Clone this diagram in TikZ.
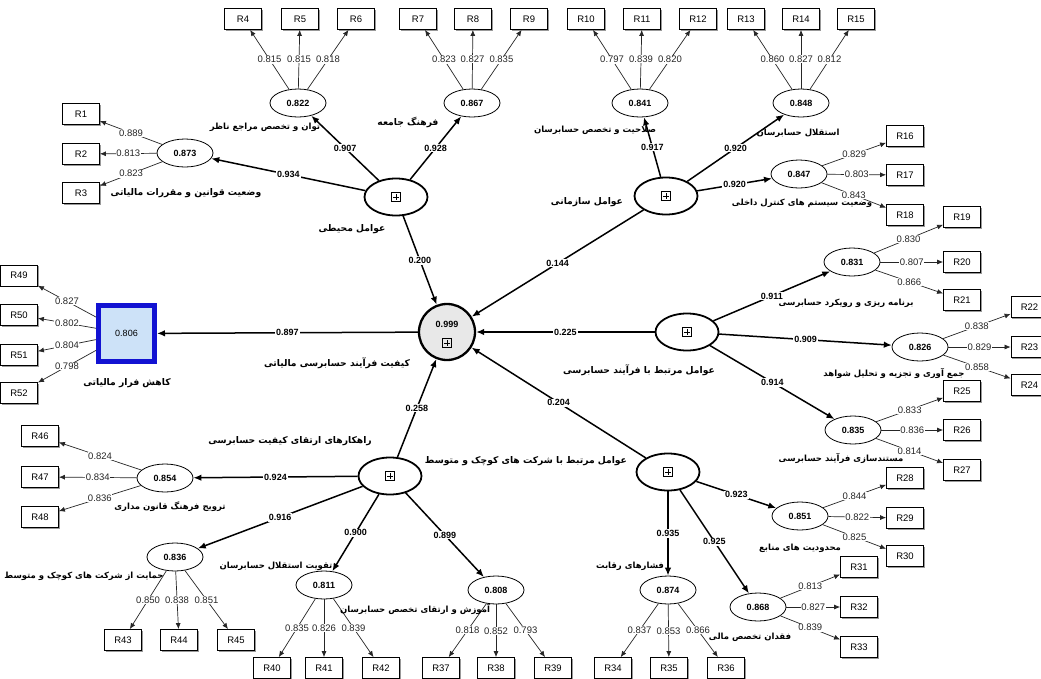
\documentclass[tikz,border=0pt]{standalone}
\usepackage{fontspec}
\setmainfont{Liberation Sans}
\newfontfamily\fa[Script=Arabic]{DejaVu Sans}
\TeXXeTstate=1
\usetikzlibrary{shapes.geometric,arrows.meta,shadows}
\definecolor{sqblue}{RGB}{18,18,210}
\definecolor{sqfill}{RGB}{205,226,248}
\definecolor{cgray}{RGB}{232,232,232}
\begin{document}
\begin{tikzpicture}[x=1pt,y=-1pt,
  ind/.style={draw, line width=0.8pt, minimum width=37pt, minimum height=21pt, inner sep=0pt, fill=white,
    font=\fontsize{9.5}{11}\selectfont,
    drop shadow={shadow xshift=1.2pt, shadow yshift=-1.2pt, fill=black!40, opacity=1}},
  fo/.style={draw, ellipse, line width=0.8pt, minimum width=56pt, minimum height=28pt, inner sep=0pt, fill=white,
    font=\bfseries\fontsize{9}{11}\selectfont},
  so/.style={draw, ellipse, line width=1.8pt, minimum width=63pt, minimum height=37pt, inner sep=0pt, fill=white},
  pbox/.style={draw, line width=0.6pt, minimum size=9pt, inner sep=0pt,
    path picture={\draw[line width=0.6pt] ([yshift=-1.8pt]path picture bounding box.north) -- ([yshift=1.8pt]path picture bounding box.south)
      ([xshift=1.8pt]path picture bounding box.west) -- ([xshift=-1.8pt]path picture bounding box.east);}},
  ld/.style={draw=black!85, line width=0.7pt, -{Latex[length=6pt,width=5pt]}},
  pth/.style={draw, line width=1.5pt, -{Latex[length=8pt,width=6.5pt]}},
  lnum/.style={fill=white, inner sep=0.6pt, font=\fontsize{9.5}{11}\selectfont, text=black!85},
  pnum/.style={fill=white, inner sep=1pt, font=\bfseries\fontsize{9}{11}\selectfont},
  falbl/.style={inner sep=0pt, font=\fa\bfseries\fontsize{9.2}{10}\selectfont},
  falbls/.style={inner sep=0pt, font=\fa\bfseries\fontsize{8.5}{10}\selectfont},
]
\useasboundingbox (0,0) rectangle (1041,678);
\fill[white] (0,0) rectangle (1041,678);

% ---------- central construct and outcome ----------
\node[circle, draw, line width=2.3pt, fill=cgray, minimum size=56pt, inner sep=0pt] (C) at (447,332) {};
\node[font=\bfseries\fontsize{9}{11}\selectfont, inner sep=0pt] (Cv) at (447,324) {0.999};
\node[pbox] (Cp) at (447,343) {};
\node[draw=sqblue, fill=sqfill, line width=5pt, minimum size=56pt, inner sep=0pt, font=\fontsize{9}{11}\selectfont] (S) at (126.5,333.5) {0.806};

% ---------- second-order constructs ----------
\node[so] (E) at (396,197) {};  \node[pbox] (Ep) at (396,197) {};
\node[so] (O) at (666,196) {};  \node[pbox] (Op) at (666,196) {};
\node[so] (P) at (687,332) {};  \node[pbox] (Pp) at (687,332) {};
\node[so] (M) at (668,472) {};  \node[pbox] (Mp) at (668,472) {};
\node[so] (K) at (390,476) {};  \node[pbox] (Kp) at (390,476) {};

% ---------- first-order constructs ----------
\node[fo] (F1) at (185,153) {0.873};
\node[fo] (F2) at (298,103) {0.822};
\node[fo] (F3) at (472,103) {0.867};
\node[fo] (F4) at (640,103) {0.841};
\node[fo] (F5) at (801,103) {0.848};
\node[fo] (F6) at (799,174) {0.847};
\node[fo] (F7) at (852,262) {0.831};
\node[fo] (F8) at (920,347) {0.826};
\node[fo] (F9) at (853,430) {0.835};
\node[fo] (F10) at (800,516) {0.851};
\node[fo] (F11) at (758,607) {0.868};
\node[fo] (F12) at (668,590) {0.874};
\node[fo] (F13) at (496,590) {0.808};
\node[fo] (F14) at (324,585) {0.811};
\node[fo] (F15) at (175,557) {0.836};
\node[fo] (F16) at (165,478) {0.854};

% ---------- indicators ----------
\node[ind] (R1) at (81,114) {R1};
\node[ind] (R2) at (81,154) {R2};
\node[ind] (R3) at (81,193) {R3};
\node[ind] (R4) at (243,19) {R4};
\node[ind] (R5) at (300,19) {R5};
\node[ind] (R6) at (356,19) {R6};
\node[ind] (R7) at (418,19) {R7};
\node[ind] (R8) at (473,19) {R8};
\node[ind] (R9) at (529,19) {R9};
\node[ind] (R10) at (586,19) {R10};
\node[ind] (R11) at (642,19) {R11};
\node[ind] (R12) at (698,19) {R12};
\node[ind] (R13) at (746,19) {R13};
\node[ind] (R14) at (801,19) {R14};
\node[ind] (R15) at (856,19) {R15};
\node[ind] (R16) at (905,136) {R16};
\node[ind] (R17) at (905,175) {R17};
\node[ind] (R18) at (905,215) {R18};
\node[ind] (R19) at (962,217) {R19};
\node[ind] (R20) at (962,262) {R20};
\node[ind] (R21) at (962,300) {R21};
\node[ind] (R22) at (1029.5,307) {R22};
\node[ind] (R23) at (1029.5,347) {R23};
\node[ind] (R24) at (1029.5,385) {R24};
\node[ind] (R25) at (962,391) {R25};
\node[ind] (R26) at (962,430) {R26};
\node[ind] (R27) at (962,470) {R27};
\node[ind] (R28) at (905,478) {R28};
\node[ind] (R29) at (905,518) {R29};
\node[ind] (R30) at (905,556) {R30};
\node[ind] (R31) at (859,567) {R31};
\node[ind] (R32) at (859,607) {R32};
\node[ind] (R33) at (859,647) {R33};
\node[ind] (R34) at (613,668) {R34};
\node[ind] (R35) at (669,668) {R35};
\node[ind] (R36) at (726,668) {R36};
\node[ind] (R37) at (441,668) {R37};
\node[ind] (R38) at (496,668) {R38};
\node[ind] (R39) at (553,668) {R39};
\node[ind] (R40) at (272,668) {R40};
\node[ind] (R41) at (324,668) {R41};
\node[ind] (R42) at (381,668) {R42};
\node[ind] (R43) at (123,640) {R43};
\node[ind] (R44) at (179,640) {R44};
\node[ind] (R45) at (236,640) {R45};
\node[ind] (R46) at (40,436) {R46};
\node[ind] (R47) at (40,477) {R47};
\node[ind] (R48) at (40,517) {R48};
\node[ind] (R49) at (19,275.5) {R49};
\node[ind] (R50) at (19,315) {R50};
\node[ind] (R51) at (19,355) {R51};
\node[ind] (R52) at (19,393) {R52};

% ---------- structural paths ----------
\draw[pth] (E) -- node[pnum] {0.200} (C);
\draw[pth] (O) -- node[pnum] {0.144} (C);
\draw[pth] (P) -- node[pnum] {0.225} (C);
\draw[pth] (M) -- node[pnum] {0.204} (C);
\draw[pth] (K) -- node[pnum] {0.258} (C);
\draw[pth] (C) -- node[pnum] {0.897} (S);

\draw[pth] (E) -- node[pnum] {0.934} (F1);
\draw[pth] (E) -- node[pnum] {0.907} (F2);
\draw[pth] (E) -- node[pnum] {0.928} (F3);
\draw[pth] (O) -- node[pnum] {0.917} (F4);
\draw[pth] (O) -- node[pnum] {0.920} (F5);
\draw[pth] (O) -- node[pnum] {0.920} (F6);
\draw[pth] (P) -- node[pnum] {0.911} (F7);
\draw[pth] (P) -- node[pnum] {0.909} (F8);
\draw[pth] (P) -- node[pnum] {0.914} (F9);
\draw[pth] (M) -- node[pnum] {0.923} (F10);
\draw[pth] (M) -- node[pnum] {0.925} (F11);
\draw[pth] (M) -- node[pnum] {0.935} (F12);
\draw[pth] (K) -- node[pnum] {0.899} (F13);
\draw[pth] (K) -- node[pnum] {0.900} (F14);
\draw[pth] (K) -- node[pnum] {0.916} (F15);
\draw[pth] (K) -- node[pnum] {0.924} (F16);

% ---------- loadings ----------
\draw[ld] (F1) -- node[lnum] {0.889} (R1);
\draw[ld] (F1) -- node[lnum] {0.813} (R2);
\draw[ld] (F1) -- node[lnum] {0.823} (R3);
\draw[ld] (F2) -- node[lnum] {0.815} (R4);
\draw[ld] (F2) -- node[lnum] {0.815} (R5);
\draw[ld] (F2) -- node[lnum] {0.818} (R6);
\draw[ld] (F3) -- node[lnum] {0.823} (R7);
\draw[ld] (F3) -- node[lnum] {0.827} (R8);
\draw[ld] (F3) -- node[lnum] {0.835} (R9);
\draw[ld] (F4) -- node[lnum] {0.797} (R10);
\draw[ld] (F4) -- node[lnum] {0.839} (R11);
\draw[ld] (F4) -- node[lnum] {0.820} (R12);
\draw[ld] (F5) -- node[lnum] {0.860} (R13);
\draw[ld] (F5) -- node[lnum] {0.827} (R14);
\draw[ld] (F5) -- node[lnum] {0.812} (R15);
\draw[ld] (F6) -- node[lnum] {0.829} (R16);
\draw[ld] (F6) -- node[lnum] {0.803} (R17);
\draw[ld] (F6) -- node[lnum] {0.843} (R18);
\draw[ld] (F7) -- node[lnum] {0.830} (R19);
\draw[ld] (F7) -- node[lnum] {0.807} (R20);
\draw[ld] (F7) -- node[lnum] {0.866} (R21);
\draw[ld] (F8) -- node[lnum] {0.838} (R22);
\draw[ld] (F8) -- node[lnum] {0.829} (R23);
\draw[ld] (F8) -- node[lnum] {0.858} (R24);
\draw[ld] (F9) -- node[lnum] {0.833} (R25);
\draw[ld] (F9) -- node[lnum] {0.836} (R26);
\draw[ld] (F9) -- node[lnum] {0.814} (R27);
\draw[ld] (F10) -- node[lnum] {0.844} (R28);
\draw[ld] (F10) -- node[lnum] {0.822} (R29);
\draw[ld] (F10) -- node[lnum] {0.825} (R30);
\draw[ld] (F11) -- node[lnum] {0.813} (R31);
\draw[ld] (F11) -- node[lnum] {0.827} (R32);
\draw[ld] (F11) -- node[lnum] {0.839} (R33);
\draw[ld] (F12) -- node[lnum] {0.837} (R34);
\draw[ld] (F12) -- node[lnum] {0.853} (R35);
\draw[ld] (F12) -- node[lnum] {0.866} (R36);
\draw[ld] (F13) -- node[lnum] {0.818} (R37);
\draw[ld] (F13) -- node[lnum] {0.852} (R38);
\draw[ld] (F13) -- node[lnum] {0.793} (R39);
\draw[ld] (F14) -- node[lnum] {0.835} (R40);
\draw[ld] (F14) -- node[lnum] {0.826} (R41);
\draw[ld] (F14) -- node[lnum] {0.839} (R42);
\draw[ld] (F15) -- node[lnum] {0.850} (R43);
\draw[ld] (F15) -- node[lnum] {0.838} (R44);
\draw[ld] (F15) -- node[lnum] {0.851} (R45);
\draw[ld] (F16) -- node[lnum] {0.824} (R46);
\draw[ld] (F16) -- node[lnum] {0.834} (R47);
\draw[ld] (F16) -- node[lnum] {0.836} (R48);
\draw[ld] (S) -- node[lnum] {0.827} (R49);
\draw[ld] (S) -- node[lnum] {0.802} (R50);
\draw[ld] (S) -- node[lnum] {0.804} (R51);
\draw[ld] (S) -- node[lnum] {0.798} (R52);

% ---------- construct names ----------
\node[falbl] (tC) at (337,363) {\beginR کیفیت فرآیند حسابرسی مالیاتی\endR};
\node[falbl] (tS) at (127,383) {\beginR کاهش فرار مالیاتی\endR};
\node[falbl] (tE) at (352,229) {\beginR عوامل محیطی\endR};
\node[falbl] (tO) at (587,202) {\beginR عوامل سازمانی\endR};
\node[falbl] (tP) at (639,370) {\beginR عوامل مرتبط با فرآیند حسابرسی\endR};
\node[falbl] (tM) at (526,461) {\beginR عوامل مرتبط با شرکت های کوچک و متوسط\endR};
\node[falbl] (tK) at (290,441) {\beginR راهکارهای ارتقای کیفیت حسابرسی\endR};
\node[falbl] (t1) at (186,193) {\beginR وضعیت قوانین و مقررات مالیاتی\endR};
\node[falbls] (t2) at (265,127) {\beginR توان و تخصص مراجع ناظر\endR};
\node[falbl] (t3) at (408,122) {\beginR فرهنگ جامعه\endR};
\node[falbls] (t4) at (595,130) {\beginR صلاحیت و تخصص حسابرسان\endR};
\node[falbls] (t5) at (798,133) {\beginR استقلال حسابرسان\endR};
\node[falbls] (t6) at (802,203) {\beginR وضعیت سیستم های کنترل داخلی\endR};
\node[falbls] (t7) at (846,303) {\beginR برنامه ریزی و رویکرد حسابرسی\endR};
\node[falbls] (t8) at (894,373) {\beginR جمع آوری و تجزیه و تحلیل شواهد\endR};
\node[falbls] (t9) at (841,458) {\beginR مستندسازی فرآیند حسابرسی\endR};
\node[falbls] (t10) at (800,548) {\beginR محدودیت های منابع\endR};
\node[falbls] (t11) at (750,637) {\beginR فقدان تخصص مالی\endR};
\node[falbls] (t12) at (630,566) {\beginR فشارهای رقابت\endR};
\node[falbls] (t13) at (415,609) {\beginR آموزش و ارتقای تخصص حسابرسان\endR};
\node[falbls] (t14) at (276,566) {\beginR تقویت استقلال حسابرسان\endR};
\node[falbls] (t15) at (84,576) {\beginR حمایت از شرکت های کوچک و متوسط\endR};
\node[falbls] (t16) at (170,507) {\beginR ترویج فرهنگ قانون مداری\endR};
\end{tikzpicture}
\end{document}
